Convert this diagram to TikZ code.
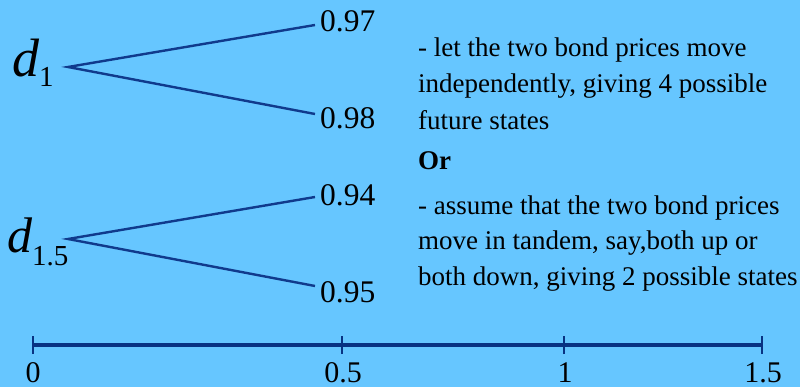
\documentclass[tikz,border=0pt]{standalone}
\usepackage{fontspec}
\setmainfont{Liberation Serif}
\definecolor{bgblue}{RGB}{102,198,255}
\definecolor{linenavy}{RGB}{16,58,140}
\definecolor{axisnavy}{RGB}{8,50,130}
\begin{document}
\begin{tikzpicture}[x=1pt,y=-1pt,
  branch/.style={draw=linenavy,line width=2.4pt},
  val/.style={anchor=west,inner sep=0pt,font=\fontsize{31.5}{31.5}\selectfont},
  note/.style={anchor=base west,inner sep=0pt,font=\fontsize{27}{30}\selectfont},
  ticklab/.style={anchor=base,inner sep=0pt,font=\fontsize{30}{30}\selectfont},
  tickmark/.style={draw=axisnavy,line width=2pt}]
\fill[bgblue] (0,0) rectangle (800,387);
\useasboundingbox (0,0) rectangle (800,387);
% first tree
\node[anchor=base west,inner sep=0pt] (d1) at (12,77)
  {{\fontsize{54}{54}\selectfont\itshape d}\raisebox{-10pt}{\fontsize{29}{29}\selectfont 1}};
\coordinate (r1) at (68,67);
\coordinate (e97) at (315,25);
\coordinate (e98) at (315,114);
\node[val] (n97) at (320,21) {0.97};
\node[val] (n98) at (320,118) {0.98};
\draw[branch] (e97) -- (r1) -- (e98);
% second tree
\node[anchor=base west,inner sep=0pt] (d15) at (7,253)
  {{\fontsize{50}{50}\selectfont\itshape d}\raisebox{-13pt}{\fontsize{29}{29}\selectfont 1.5}};
\coordinate (r2) at (68,239);
\coordinate (e94) at (315,197);
\coordinate (e95) at (315,286);
\node[val] (n94) at (320,195) {0.94};
\node[val] (n95) at (320,292) {0.95};
\draw[branch] (e94) -- (r2) -- (e95);
% text
\node[note] (t1) at (418,57) {- let the two bond prices move};
\node[note] (t2) at (418,93) {independently, giving 4 possible};
\node[note] (t3) at (418,130) {future states};
\node[note,font=\fontsize{27}{30}\selectfont\bfseries] (t4) at (418,170) {Or};
\node[note] (t5) at (418,215) {- assume that the two bond prices};
\node[note] (t6) at (418,250) {move in tandem, say,both up or};
\node[note] (t7) at (418,285) {both down, giving 2 possible states};
% axis
\coordinate (a0) at (33,345);
\coordinate (a1) at (342,345);
\coordinate (a2) at (564,345);
\coordinate (a3) at (762,345);
\draw[draw=axisnavy,line width=3.2pt] (a0) -- (a3);
\foreach \p in {a0,a1,a2,a3} \draw[tickmark] ([yshift=-9pt]\p) -- ([yshift=9pt]\p);
\node[ticklab] (l0) at (33,382) {0};
\node[ticklab] (l1) at (343,382) {0.5};
\node[ticklab] (l2) at (565,382) {1};
\node[ticklab] (l3) at (763,382) {1.5};
\end{tikzpicture}
\end{document}
